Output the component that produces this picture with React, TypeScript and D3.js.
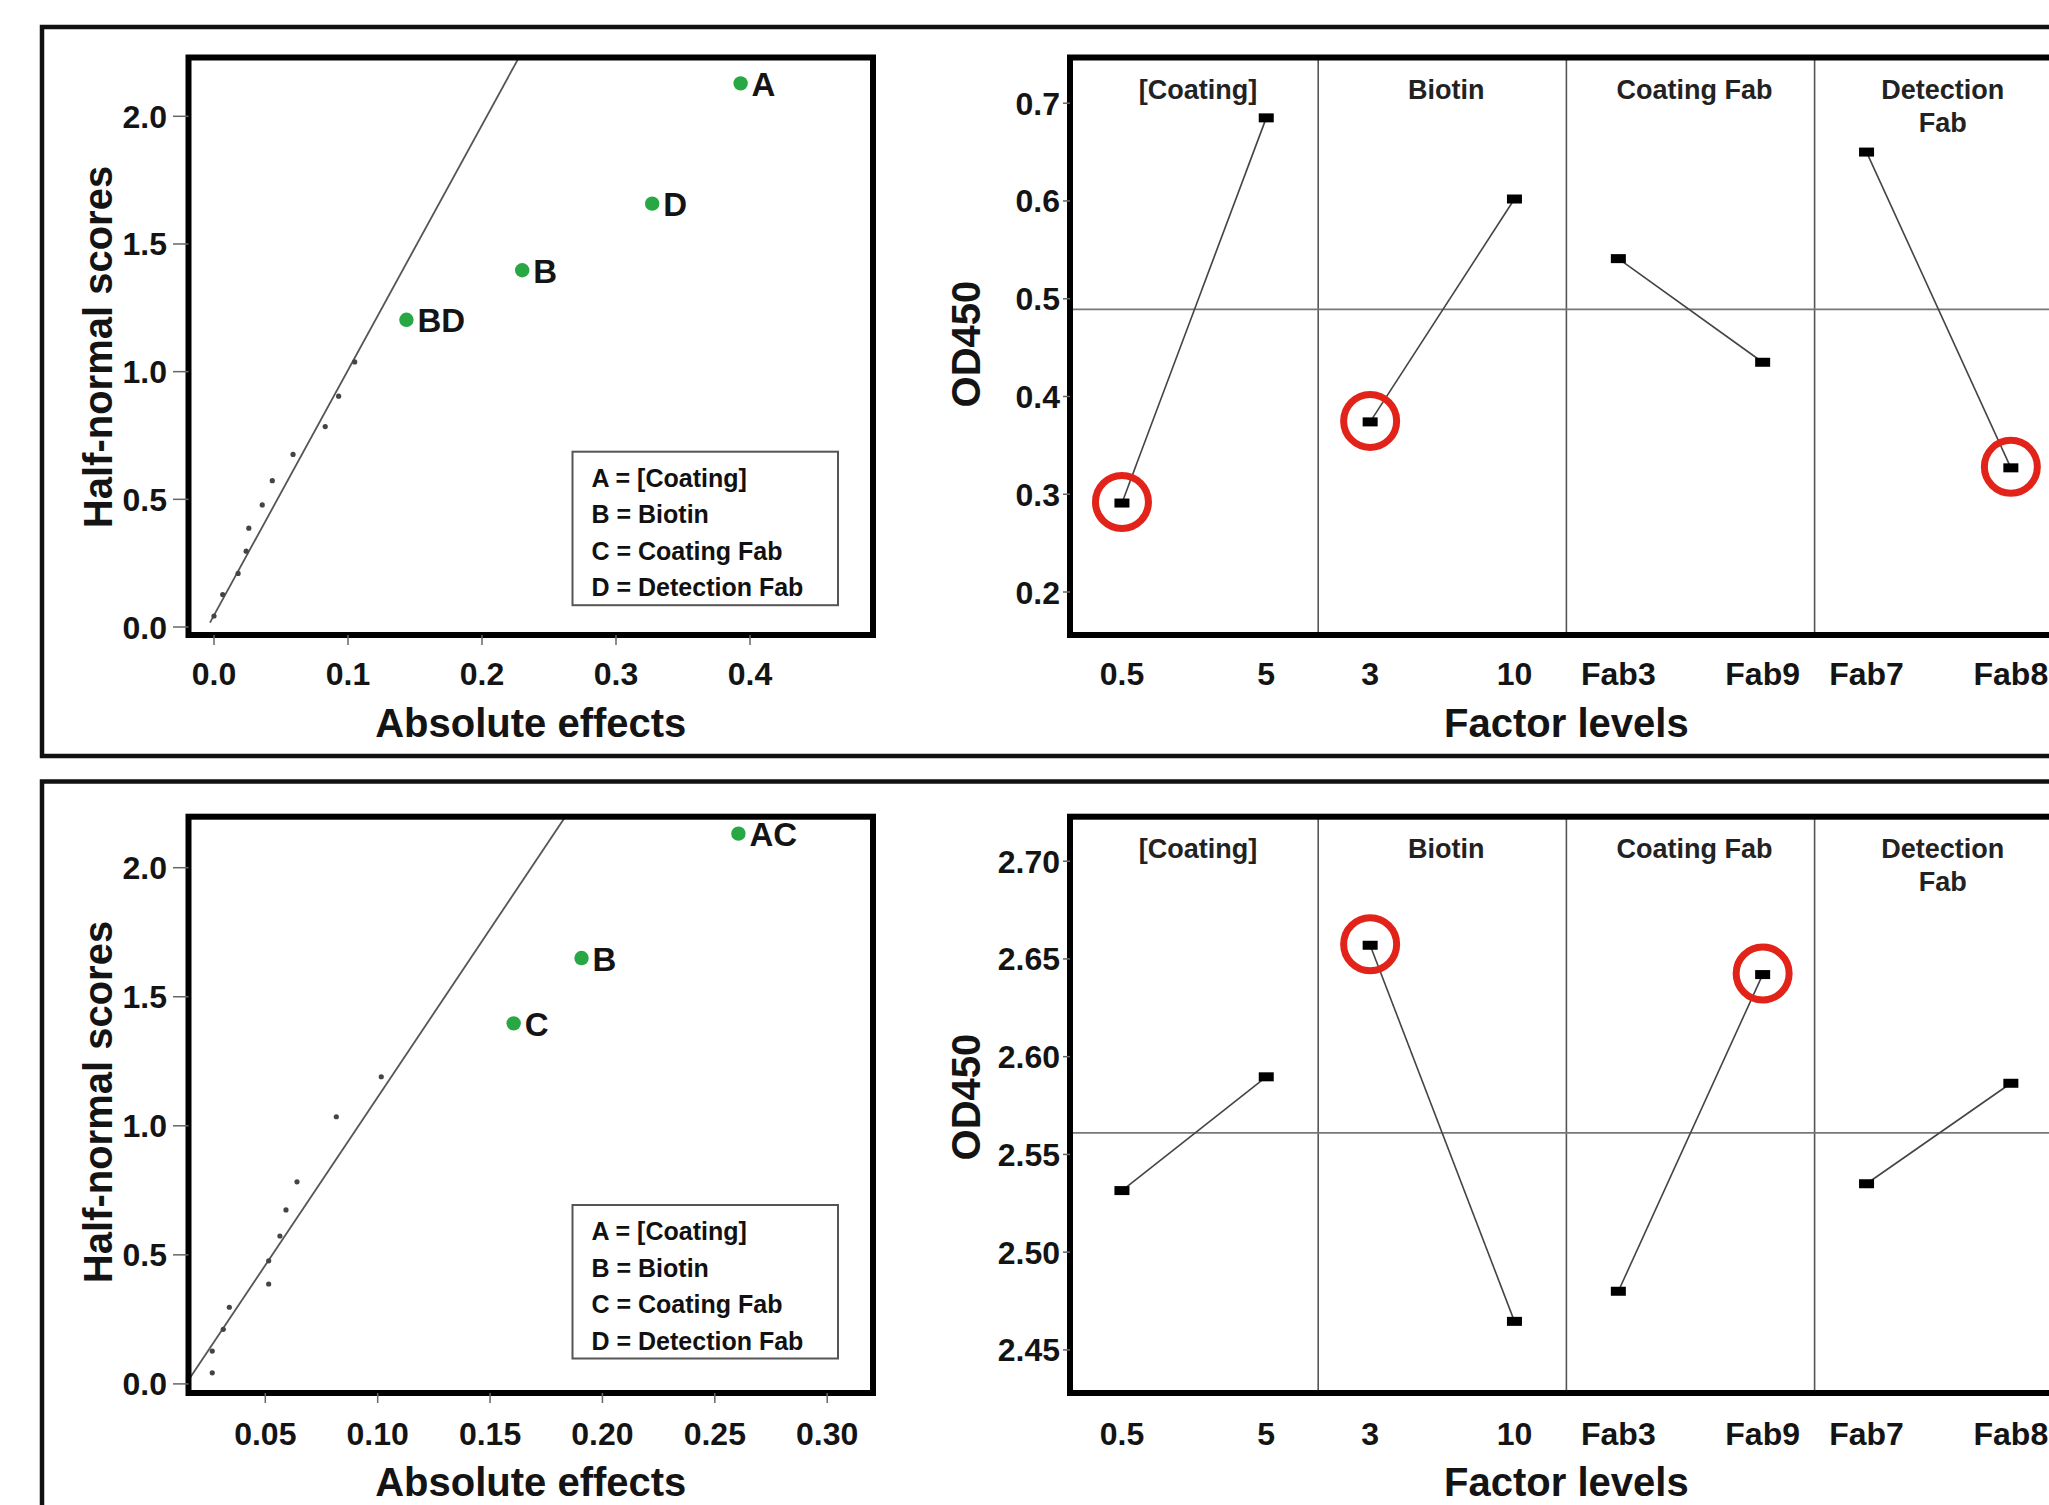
import React from 'react';
import * as d3 from 'd3';

const W = 2049;
const H = 1505;
const FONT = '"Liberation Sans", Arial, Helvetica, sans-serif';
const INK = '#141414';
const GREEN = '#27a844';
const RED = '#e2231a';

// half-normal plot (top row)
const hnTopEffects = [0.0, 0.0065, 0.018, 0.024, 0.026, 0.036, 0.0435, 0.059, 0.083, 0.093, 0.105];
const hnTopScores = [0.043, 0.127, 0.21, 0.297, 0.387, 0.478, 0.573, 0.676, 0.785, 0.904, 1.038];
const hnTopSigNames = ['BD', 'B', 'D', 'A'];
const hnTopSigEffects = [0.1436, 0.23, 0.327, 0.393];
const hnTopSigScores = [1.203, 1.397, 1.658, 2.129];
const hnTopFit = [[-0.003, 0.017], [0.2275, 2.23]];
const hnTopXTicks = [0, 0.1, 0.2, 0.3, 0.4];

// half-normal plot (bottom row)
const hnBotEffects = [0.0264, 0.0264, 0.0313, 0.034, 0.0515, 0.0515, 0.0565, 0.0592, 0.0641, 0.0816, 0.1016];
const hnBotScores = [0.043, 0.127, 0.2115, 0.297, 0.387, 0.477, 0.573, 0.674, 0.783, 1.035, 1.19];
const hnBotSigNames = ['C', 'B', 'AC'];
const hnBotSigEffects = [0.1605, 0.1907, 0.2605];
const hnBotSigScores = [1.397, 1.65, 2.132];
const hnBotFit = [[0.0163, 0.021], [0.1831, 2.193]];
const hnBotXTicks = [0.05, 0.1, 0.15, 0.2, 0.25, 0.3];

const hnYTicks = [0, 0.5, 1, 1.5, 2];
const legendItems = ['A = [Coating]', 'B = Biotin', 'C = Coating Fab', 'D = Detection Fab'];

// main effects plots
const factors = ['[Coating]', 'Biotin', 'Coating Fab', 'Detection Fab'];
const factorStrips = [['[Coating]'], ['Biotin'], ['Coating Fab'], ['Detection', 'Fab']];
const factorLevels = [['0.5', '5'], ['3', '10'], ['Fab3', 'Fab9'], ['Fab7', 'Fab8']];

const meTopMeans = [[0.291, 0.685], [0.374, 0.602], [0.541, 0.435], [0.65, 0.327]];
const meTopGrand = 0.489;
const meTopCircled = [[0], [0], [], [1]];
const meTopYTicks = [0.2, 0.3, 0.4, 0.5, 0.6, 0.7];

const meBotMeans = [[2.5315, 2.5897], [2.657, 2.4646], [2.48, 2.642], [2.535, 2.5864]];
const meBotGrand = 2.561;
const meBotCircled = [[], [0], [1], []];
const meBotYTicks = [2.45, 2.5, 2.55, 2.6, 2.65, 2.7];

const LEFT_X0 = 188.5;
const LEFT_X1 = 873;
const RIGHT_X0 = 1070;
const FACET_W = 248.2;

function HalfNormal({ id, y0, y1, xScale, yScale, xTicks, xFmt, effects, scores, sigNames, sigEffects, sigScores, fit, legendTop, tickY, titleY, yTitleY }) {
  const fitPath = d3.line().x(d => xScale(d[0])).y(d => yScale(d[1]))(fit);
  return (
    <g fontFamily={FONT} fontWeight="bold" fill={INK}>
      <defs>
        <clipPath id={id}>
          <rect x={LEFT_X0} y={y0} width={LEFT_X1 - LEFT_X0} height={y1 - y0} />
        </clipPath>
      </defs>
      <path d={fitPath} stroke="#555" strokeWidth={1.8} fill="none" clipPath={`url(#${id})`} />
      {effects.map((e, i) => (
        <circle key={i} cx={xScale(e)} cy={yScale(scores[i])} r={2.6} fill="#444" />
      ))}
      {sigNames.map((n, i) => (
        <g key={n}>
          <circle cx={xScale(sigEffects[i])} cy={yScale(sigScores[i])} r={7.2} fill={GREEN} />
          <text x={xScale(sigEffects[i]) + 11} y={yScale(sigScores[i]) + 12.5} fontSize={33}>{n}</text>
        </g>
      ))}
      <rect x={572.5} y={legendTop} width={265.5} height={153.5} fill="none" stroke="#555" strokeWidth={2} />
      {legendItems.map((t, i) => (
        <text key={t} x={591.5} y={legendTop + 26 + 36.5 * i + 9} fontSize={25} fill="#111">{t}</text>
      ))}
      <rect x={LEFT_X0} y={y0} width={LEFT_X1 - LEFT_X0} height={y1 - y0} fill="none" stroke="#000" strokeWidth={6} />
      {hnYTicks.map(t => (
        <g key={t}>
          <line x1={173} x2={LEFT_X0} y1={yScale(t)} y2={yScale(t)} stroke="#666" strokeWidth={1.5} />
          <text x={167} y={yScale(t) + 11.5} textAnchor="end" fontSize={32}>{d3.format('.1f')(t)}</text>
        </g>
      ))}
      {xTicks.map(t => (
        <g key={t}>
          <line x1={xScale(t)} x2={xScale(t)} y1={y1} y2={y1 + 10} stroke="#666" strokeWidth={1.5} />
          <text x={xScale(t)} y={tickY} textAnchor="middle" fontSize={32}>{d3.format(xFmt)(t)}</text>
        </g>
      ))}
      <text x={(LEFT_X0 + LEFT_X1) / 2} y={titleY} textAnchor="middle" fontSize={40}>Absolute effects</text>
      <text transform={`translate(112,${yTitleY}) rotate(-90)`} textAnchor="middle" fontSize={40}>Half-normal scores</text>
    </g>
  );
}

function MainEffects({ y0, y1, yScale, yTicks, yFmt, means, grand, circled, stripY, tickY, titleY, yTitleY }) {
  const facetX = d3.scaleBand().domain(factors).range([RIGHT_X0, RIGHT_X0 + 4 * FACET_W]);
  const levelX = d3.scalePoint().domain([0, 1]).range([0, facetX.bandwidth()]).padding(0.36);
  const px = (f, j) => facetX(factors[f]) + levelX(j);
  const link = d3.line().x(d => d[0]).y(d => d[1]);
  return (
    <g fontFamily={FONT} fontWeight="bold" fill={INK}>
      {factors.slice(1).map(f => (
        <line key={f} x1={facetX(f)} x2={facetX(f)} y1={y0} y2={y1} stroke="#555" strokeWidth={1.6} />
      ))}
      <line x1={RIGHT_X0} x2={RIGHT_X0 + 4 * FACET_W} y1={yScale(grand)} y2={yScale(grand)} stroke="#777" strokeWidth={1.8} />
      {factorStrips.map((lines, f) => lines.map((s, k) => (
        <text key={f + '-' + k} x={facetX(factors[f]) + FACET_W / 2 + 4} y={stripY + 33 * k} textAnchor="middle" fontSize={27} fill="#222">{s}</text>
      )))}
      {means.map((m, f) => (
        <g key={f}>
          <path d={link(m.map((v, j) => [px(f, j), yScale(v)]))} stroke="#444" strokeWidth={1.6} fill="none" />
          {m.map((v, j) => (
            <rect key={j} x={px(f, j) - 7.5} y={yScale(v) - 4.5} width={15} height={9} fill="#000" />
          ))}
          {circled[f].map(j => (
            <circle key={j} cx={px(f, j)} cy={yScale(m[j]) - 1} r={26.5} fill="none" stroke={RED} strokeWidth={7} />
          ))}
          {factorLevels[f].map((l, j) => (
            <text key={l} x={px(f, j)} y={tickY} textAnchor="middle" fontSize={32}>{l}</text>
          ))}
        </g>
      ))}
      <rect x={RIGHT_X0} y={y0} width={4 * FACET_W} height={y1 - y0} fill="none" stroke="#000" strokeWidth={6} />
      {yTicks.map(t => (
        <g key={t}>
          <line x1={1063} x2={RIGHT_X0} y1={yScale(t)} y2={yScale(t)} stroke="#666" strokeWidth={1.5} />
          <text x={1060} y={yScale(t) + 11.5} textAnchor="end" fontSize={32}>{d3.format(yFmt)(t)}</text>
        </g>
      ))}
      <text x={RIGHT_X0 + 2 * FACET_W} y={titleY} textAnchor="middle" fontSize={40}>Factor levels</text>
      <text transform={`translate(980,${yTitleY}) rotate(-90)`} textAnchor="middle" fontSize={40}>OD450</text>
    </g>
  );
}

export default function App() {
  const hnTopX = d3.scaleLinear().domain([0, 0.4]).range([214, 750]);
  const hnTopY = d3.scaleLinear().domain([0, 2]).range([627, 116.3]);
  const hnBotX = d3.scaleLinear().domain([0.05, 0.3]).range([265.3, 827.2]);
  const hnBotY = d3.scaleLinear().domain([0, 2]).range([1383.9, 867.7]);
  const meTopY = d3.scaleLinear().domain([0.2, 0.7]).range([592, 103.2]);
  const meBotY = d3.scaleLinear().domain([2.45, 2.7]).range([1349.9, 861.2]);

  return (
    <svg width={W} height={H} style={{ position: 'absolute', left: 0, top: 0, background: '#fff' }}>
      <rect x={0} y={0} width={W} height={H} fill="#fff" />
      <rect x={42} y={27} width={2100} height={729} fill="none" stroke="#111" strokeWidth={4.5} />
      <rect x={42} y={781.5} width={2100} height={800} fill="none" stroke="#111" strokeWidth={4.5} />

      <HalfNormal id="clipTop" y0={57.5} y1={635} xScale={hnTopX} yScale={hnTopY}
        xTicks={hnTopXTicks} xFmt=".1f" effects={hnTopEffects} scores={hnTopScores}
        sigNames={hnTopSigNames} sigEffects={hnTopSigEffects} sigScores={hnTopSigScores}
        fit={hnTopFit} legendTop={451.7} tickY={685} titleY={737} yTitleY={347} />
      <HalfNormal id="clipBot" y0={816.7} y1={1393} xScale={hnBotX} yScale={hnBotY}
        xTicks={hnBotXTicks} xFmt=".2f" effects={hnBotEffects} scores={hnBotScores}
        sigNames={hnBotSigNames} sigEffects={hnBotSigEffects} sigScores={hnBotSigScores}
        fit={hnBotFit} legendTop={1205} tickY={1445} titleY={1496} yTitleY={1102} />

      <MainEffects y0={57.5} y1={635} yScale={meTopY} yTicks={meTopYTicks} yFmt=".1f"
        means={meTopMeans} grand={meTopGrand} circled={meTopCircled}
        stripY={98.5} tickY={685} titleY={737} yTitleY={344} />
      <MainEffects y0={816.7} y1={1393} yScale={meBotY} yTicks={meBotYTicks} yFmt=".2f"
        means={meBotMeans} grand={meBotGrand} circled={meBotCircled}
        stripY={858} tickY={1445} titleY={1496} yTitleY={1097} />
    </svg>
  );
}
